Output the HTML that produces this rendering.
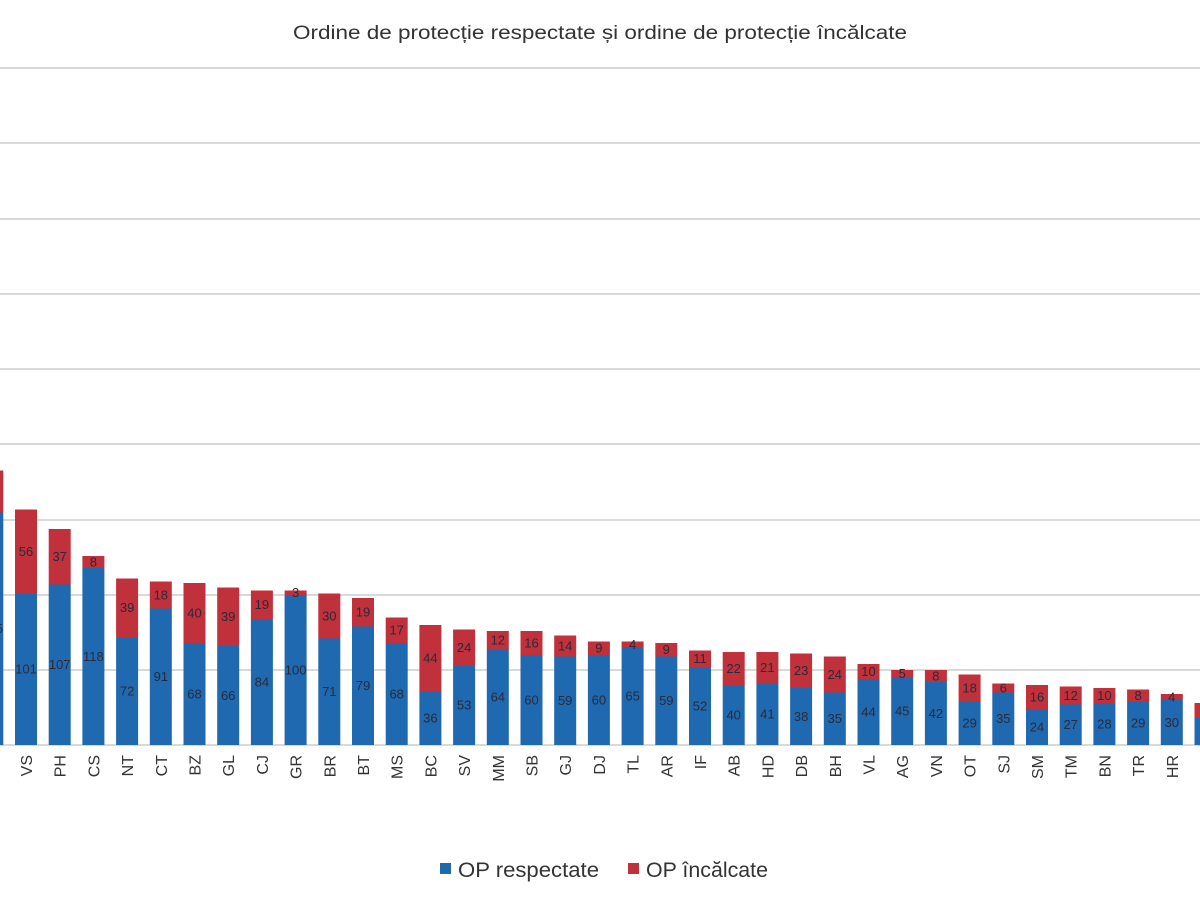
<!DOCTYPE html>
<html><head><meta charset="utf-8"><style>
html,body{margin:0;padding:0;background:#fff;}
svg{display:block;font-family:"Liberation Sans",sans-serif;}
.g{stroke:#d9d9d9;stroke-width:2}
.b{fill:#1f69b0}.r{fill:#c1313b}
.v{font-size:13px;fill:#2a2a3a;text-anchor:middle}
.x{font-size:16px;fill:#333;text-anchor:end}
</style></head><body>
<svg width="1200" height="900" viewBox="0 0 1200 900">
<text x="293" y="39" font-size="19" fill="#333" textLength="614" lengthAdjust="spacingAndGlyphs">Ordine de protecție respectate și ordine de protecție încălcate</text>
<g>
<line class="g" x1="0" x2="1200" y1="68" y2="68"/><line class="g" x1="0" x2="1200" y1="143" y2="143"/>
<line class="g" x1="0" x2="1200" y1="219" y2="219"/><line class="g" x1="0" x2="1200" y1="294" y2="294"/>
<line class="g" x1="0" x2="1200" y1="369" y2="369"/><line class="g" x1="0" x2="1200" y1="444" y2="444"/>
<line class="g" x1="0" x2="1200" y1="520" y2="520"/><line class="g" x1="0" x2="1200" y1="595" y2="595"/>
<line class="g" x1="0" x2="1200" y1="670" y2="670"/><line class="g" x1="0" x2="1200" y1="745" y2="745"/>
</g>
<g>
<rect class="b" x="-18.7" y="512.5" width="22" height="232.5"/><rect class="r" x="-18.7" y="470.5" width="22" height="42"/><text class="v" x="-7.7" y="633">155</text>
<rect class="b" x="15" y="593.5" width="22" height="151.5"/><rect class="r" x="15" y="509.5" width="22" height="84"/><text class="v" x="26" y="673.5">101</text><text class="v" x="26" y="556">56</text>
<rect class="b" x="48.7" y="584.5" width="22" height="160.5"/><rect class="r" x="48.7" y="529" width="22" height="55.5"/><text class="v" x="59.7" y="669.2">107</text><text class="v" x="59.7" y="561.2">37</text>
<rect class="b" x="82.4" y="568" width="22" height="177"/><rect class="r" x="82.4" y="556" width="22" height="12"/><text class="v" x="93.4" y="661">118</text><text class="v" x="93.4" y="566.5">8</text>
<rect class="b" x="116.1" y="637" width="22" height="108"/><rect class="r" x="116.1" y="578.5" width="22" height="58.5"/><text class="v" x="127.1" y="695.5">72</text><text class="v" x="127.1" y="612.2">39</text>
<rect class="b" x="149.8" y="608.5" width="22" height="136.5"/><rect class="r" x="149.8" y="581.5" width="22" height="27"/><text class="v" x="160.8" y="681.2">91</text><text class="v" x="160.8" y="599.5">18</text>
<rect class="b" x="183.5" y="643" width="22" height="102"/><rect class="r" x="183.5" y="583" width="22" height="60"/><text class="v" x="194.5" y="698.5">68</text><text class="v" x="194.5" y="617.5">40</text>
<rect class="b" x="217.2" y="646" width="22" height="99"/><rect class="r" x="217.2" y="587.5" width="22" height="58.5"/><text class="v" x="228.2" y="700">66</text><text class="v" x="228.2" y="621.2">39</text>
<rect class="b" x="250.9" y="619" width="22" height="126"/><rect class="r" x="250.9" y="590.5" width="22" height="28.5"/><text class="v" x="261.9" y="686.5">84</text><text class="v" x="261.9" y="609.2">19</text>
<rect class="b" x="284.6" y="595" width="22" height="150"/><rect class="r" x="284.6" y="590.5" width="22" height="4.5"/><text class="v" x="295.6" y="674.5">100</text><text class="v" x="295.6" y="597.2">3</text>
<rect class="b" x="318.3" y="638.5" width="22" height="106.5"/><rect class="r" x="318.3" y="593.5" width="22" height="45"/><text class="v" x="329.3" y="696.2">71</text><text class="v" x="329.3" y="620.5">30</text>
<rect class="b" x="352" y="626.5" width="22" height="118.5"/><rect class="r" x="352" y="598" width="22" height="28.5"/><text class="v" x="363" y="690.2">79</text><text class="v" x="363" y="616.7">19</text>
<rect class="b" x="385.7" y="643" width="22" height="102"/><rect class="r" x="385.7" y="617.5" width="22" height="25.5"/><text class="v" x="396.7" y="698.5">68</text><text class="v" x="396.7" y="634.7">17</text>
<rect class="b" x="419.4" y="691" width="22" height="54"/><rect class="r" x="419.4" y="625" width="22" height="66"/><text class="v" x="430.4" y="722.5">36</text><text class="v" x="430.4" y="662.5">44</text>
<rect class="b" x="453.1" y="665.5" width="22" height="79.5"/><rect class="r" x="453.1" y="629.5" width="22" height="36"/><text class="v" x="464.1" y="709.7">53</text><text class="v" x="464.1" y="652">24</text>
<rect class="b" x="486.8" y="649" width="22" height="96"/><rect class="r" x="486.8" y="631" width="22" height="18"/><text class="v" x="497.8" y="701.5">64</text><text class="v" x="497.8" y="644.5">12</text>
<rect class="b" x="520.5" y="655" width="22" height="90"/><rect class="r" x="520.5" y="631" width="22" height="24"/><text class="v" x="531.5" y="704.5">60</text><text class="v" x="531.5" y="647.5">16</text>
<rect class="b" x="554.2" y="656.5" width="22" height="88.5"/><rect class="r" x="554.2" y="635.5" width="22" height="21"/><text class="v" x="565.2" y="705.2">59</text><text class="v" x="565.2" y="650.5">14</text>
<rect class="b" x="587.9" y="655" width="22" height="90"/><rect class="r" x="587.9" y="641.5" width="22" height="13.5"/><text class="v" x="598.9" y="704.5">60</text><text class="v" x="598.9" y="652.7">9</text>
<rect class="b" x="621.6" y="647.5" width="22" height="97.5"/><rect class="r" x="621.6" y="641.5" width="22" height="6"/><text class="v" x="632.6" y="700.7">65</text><text class="v" x="632.6" y="649">4</text>
<rect class="b" x="655.3" y="656.5" width="22" height="88.5"/><rect class="r" x="655.3" y="643" width="22" height="13.5"/><text class="v" x="666.3" y="705.2">59</text><text class="v" x="666.3" y="654.2">9</text>
<rect class="b" x="689" y="667" width="22" height="78"/><rect class="r" x="689" y="650.5" width="22" height="16.5"/><text class="v" x="700" y="710.5">52</text><text class="v" x="700" y="663.2">11</text>
<rect class="b" x="722.7" y="685" width="22" height="60"/><rect class="r" x="722.7" y="652" width="22" height="33"/><text class="v" x="733.7" y="719.5">40</text><text class="v" x="733.7" y="673">22</text>
<rect class="b" x="756.4" y="683.5" width="22" height="61.5"/><rect class="r" x="756.4" y="652" width="22" height="31.5"/><text class="v" x="767.4" y="718.7">41</text><text class="v" x="767.4" y="672.2">21</text>
<rect class="b" x="790.1" y="688" width="22" height="57"/><rect class="r" x="790.1" y="653.5" width="22" height="34.5"/><text class="v" x="801.1" y="721">38</text><text class="v" x="801.1" y="675.2">23</text>
<rect class="b" x="823.8" y="692.5" width="22" height="52.5"/><rect class="r" x="823.8" y="656.5" width="22" height="36"/><text class="v" x="834.8" y="723.2">35</text><text class="v" x="834.8" y="679">24</text>
<rect class="b" x="857.5" y="679" width="22" height="66"/><rect class="r" x="857.5" y="664" width="22" height="15"/><text class="v" x="868.5" y="716.5">44</text><text class="v" x="868.5" y="676">10</text>
<rect class="b" x="891.2" y="677.5" width="22" height="67.5"/><rect class="r" x="891.2" y="670" width="22" height="7.5"/><text class="v" x="902.2" y="715.7">45</text><text class="v" x="902.2" y="678.2">5</text>
<rect class="b" x="924.9" y="682" width="22" height="63"/><rect class="r" x="924.9" y="670" width="22" height="12"/><text class="v" x="935.9" y="718">42</text><text class="v" x="935.9" y="680.5">8</text>
<rect class="b" x="958.6" y="701.5" width="22" height="43.5"/><rect class="r" x="958.6" y="674.5" width="22" height="27"/><text class="v" x="969.6" y="727.7">29</text><text class="v" x="969.6" y="692.5">18</text>
<rect class="b" x="992.3" y="692.5" width="22" height="52.5"/><rect class="r" x="992.3" y="683.5" width="22" height="9"/><text class="v" x="1003.3" y="723.2">35</text><text class="v" x="1003.3" y="692.5">6</text>
<rect class="b" x="1026" y="709" width="22" height="36"/><rect class="r" x="1026" y="685" width="22" height="24"/><text class="v" x="1037" y="731.5">24</text><text class="v" x="1037" y="701.5">16</text>
<rect class="b" x="1059.7" y="704.5" width="22" height="40.5"/><rect class="r" x="1059.7" y="686.5" width="22" height="18"/><text class="v" x="1070.7" y="729.2">27</text><text class="v" x="1070.7" y="700">12</text>
<rect class="b" x="1093.4" y="703" width="22" height="42"/><rect class="r" x="1093.4" y="688" width="22" height="15"/><text class="v" x="1104.4" y="728.5">28</text><text class="v" x="1104.4" y="700">10</text>
<rect class="b" x="1127.1" y="701.5" width="22" height="43.5"/><rect class="r" x="1127.1" y="689.5" width="22" height="12"/><text class="v" x="1138.1" y="727.7">29</text><text class="v" x="1138.1" y="700">8</text>
<rect class="b" x="1160.8" y="700" width="22" height="45"/><rect class="r" x="1160.8" y="694" width="22" height="6"/><text class="v" x="1171.8" y="727">30</text><text class="v" x="1171.8" y="701.5">4</text>
<rect class="b" x="1194.5" y="718" width="22" height="27"/><rect class="r" x="1194.5" y="703" width="22" height="15"/>
</g>
<g>
<text class="x" transform="translate(32,755) rotate(-90)">VS</text>
<text class="x" transform="translate(65.7,755) rotate(-90)">PH</text>
<text class="x" transform="translate(99.4,755) rotate(-90)">CS</text>
<text class="x" transform="translate(133.1,755) rotate(-90)">NT</text>
<text class="x" transform="translate(166.8,755) rotate(-90)">CT</text>
<text class="x" transform="translate(200.5,755) rotate(-90)">BZ</text>
<text class="x" transform="translate(234.2,755) rotate(-90)">GL</text>
<text class="x" transform="translate(267.9,755) rotate(-90)">CJ</text>
<text class="x" transform="translate(301.6,755) rotate(-90)">GR</text>
<text class="x" transform="translate(335.3,755) rotate(-90)">BR</text>
<text class="x" transform="translate(369,755) rotate(-90)">BT</text>
<text class="x" transform="translate(402.7,755) rotate(-90)">MS</text>
<text class="x" transform="translate(436.4,755) rotate(-90)">BC</text>
<text class="x" transform="translate(470.1,755) rotate(-90)">SV</text>
<text class="x" transform="translate(503.8,755) rotate(-90)">MM</text>
<text class="x" transform="translate(537.5,755) rotate(-90)">SB</text>
<text class="x" transform="translate(571.2,755) rotate(-90)">GJ</text>
<text class="x" transform="translate(604.9,755) rotate(-90)">DJ</text>
<text class="x" transform="translate(638.6,755) rotate(-90)">TL</text>
<text class="x" transform="translate(672.3,755) rotate(-90)">AR</text>
<text class="x" transform="translate(706,755) rotate(-90)">IF</text>
<text class="x" transform="translate(739.7,755) rotate(-90)">AB</text>
<text class="x" transform="translate(773.4,755) rotate(-90)">HD</text>
<text class="x" transform="translate(807.1,755) rotate(-90)">DB</text>
<text class="x" transform="translate(840.8,755) rotate(-90)">BH</text>
<text class="x" transform="translate(874.5,755) rotate(-90)">VL</text>
<text class="x" transform="translate(908.2,755) rotate(-90)">AG</text>
<text class="x" transform="translate(941.9,755) rotate(-90)">VN</text>
<text class="x" transform="translate(975.6,755) rotate(-90)">OT</text>
<text class="x" transform="translate(1009.3,755) rotate(-90)">SJ</text>
<text class="x" transform="translate(1043,755) rotate(-90)">SM</text>
<text class="x" transform="translate(1076.7,755) rotate(-90)">TM</text>
<text class="x" transform="translate(1110.4,755) rotate(-90)">BN</text>
<text class="x" transform="translate(1144.1,755) rotate(-90)">TR</text>
<text class="x" transform="translate(1177.8,755) rotate(-90)">HR</text>
</g>
<rect class="b" x="440" y="863" width="11" height="11"/>
<text x="458" y="877" font-size="21" fill="#333" textLength="141" lengthAdjust="spacingAndGlyphs">OP respectate</text>
<rect class="r" x="628" y="863" width="11" height="11"/>
<text x="646" y="877" font-size="21" fill="#333" textLength="122" lengthAdjust="spacingAndGlyphs">OP încălcate</text>
</svg>
</body></html>
